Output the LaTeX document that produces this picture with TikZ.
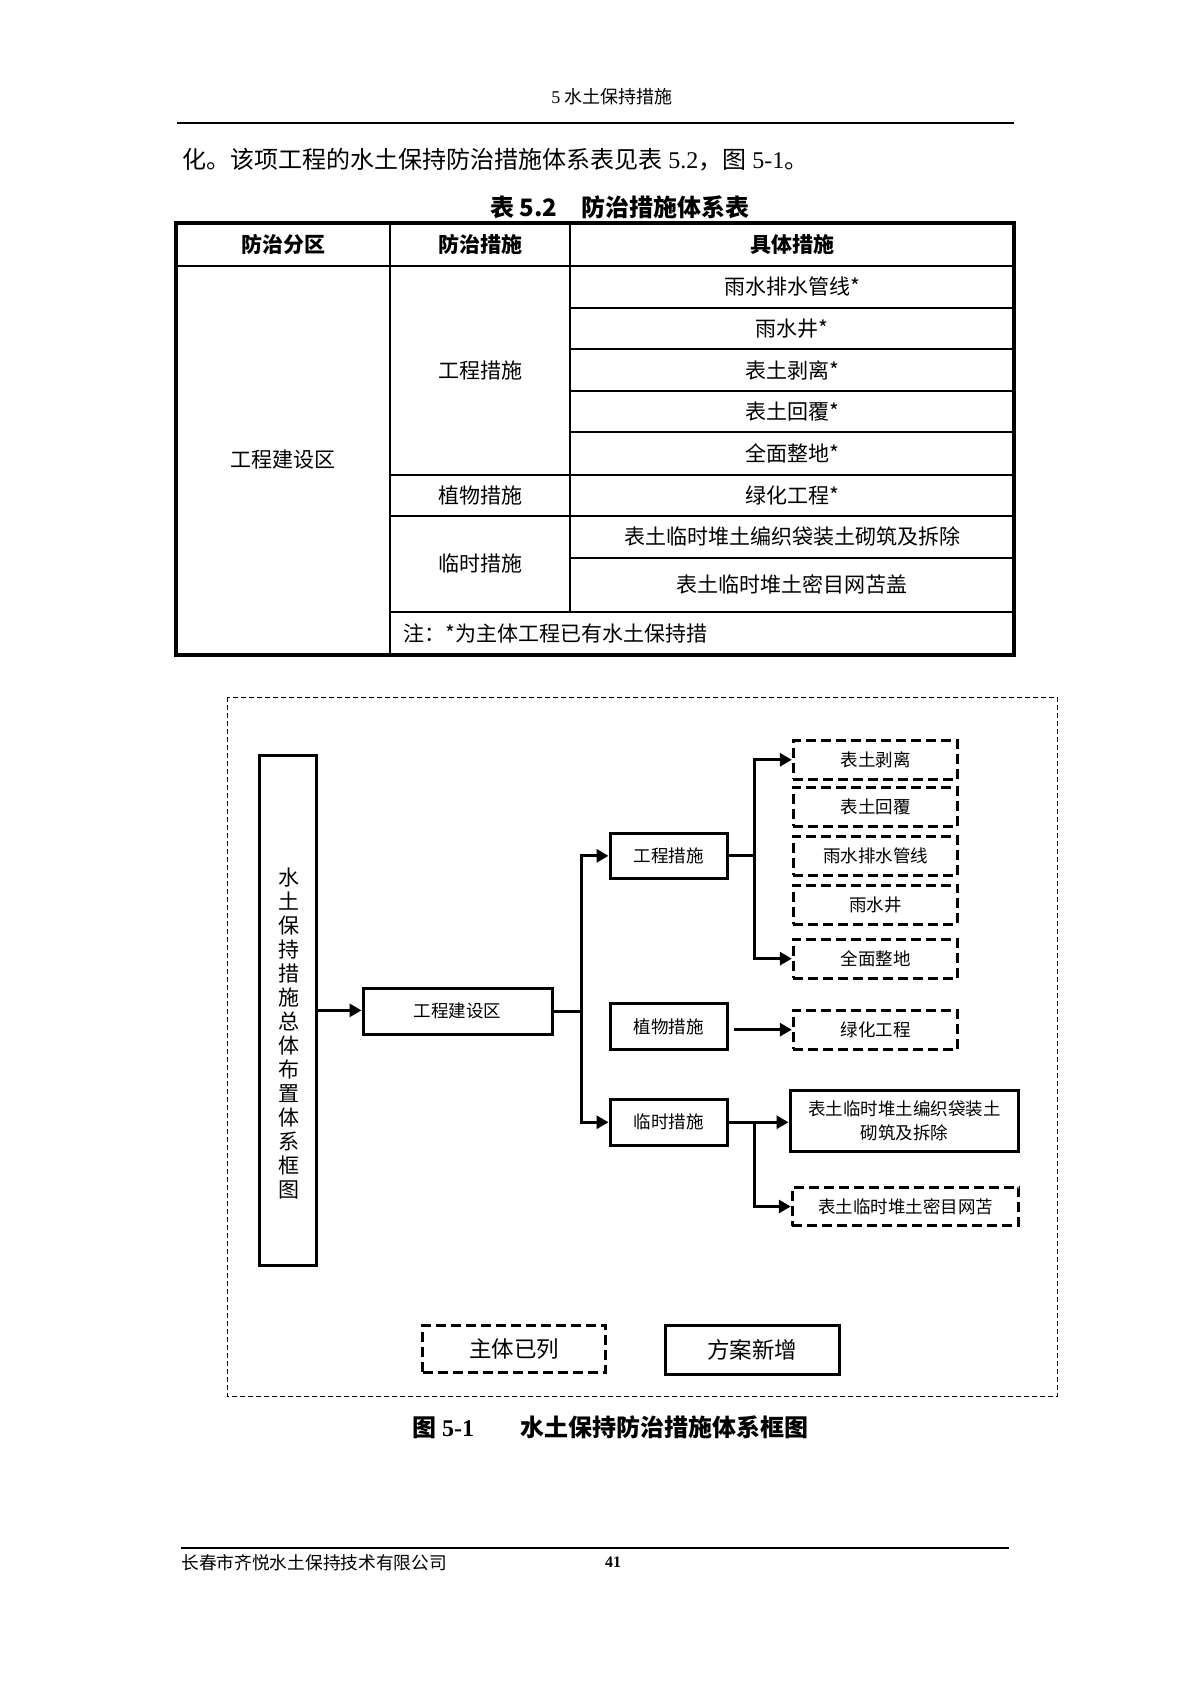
\documentclass[tikz,border=0pt]{standalone}
\usepackage{fontspec}
\setmainfont{Liberation Serif}
\newfontfamily\cjk{Noto Sans CJK SC}
\usetikzlibrary{arrows.meta,calc}
\tikzset{
  tcell/.style={font=\cjk\fontsize{10.5pt}{12pt}\selectfont, inner sep=0pt},
  thead/.style={font=\cjk\bfseries\fontsize{10.5pt}{12pt}\selectfont, inner sep=0pt},
  outerline/.style={line width=1.6pt},
  innerline/.style={line width=1pt},
  sbox/.style={draw, line width=1.5pt, inner sep=0pt, align=center,
    font=\cjk\fontsize{8.75pt}{11.7pt}\selectfont},
  dbox/.style={sbox, dash pattern=on 5pt off 2.5pt},
  lgbox/.style={draw, line width=1.5pt, inner sep=0pt,
    font=\cjk\fontsize{11.25pt}{13pt}\selectfont},
  lgdbox/.style={lgbox, dash pattern=on 5pt off 2.5pt},
  arr/.style={line width=1.5pt, -{Triangle[length=6pt,width=6.5pt]}},
  ln/.style={line width=1.5pt},
  vtext/.style={inner sep=0pt, align=center, font=\cjk\fontsize{10.5pt}{12pt}\selectfont},
  frame/.style={line width=0.55pt, dash pattern=on 2.5pt off 1.5pt}
}
\begin{document}
\begin{tikzpicture}[x=0.5pt,y=-0.5pt]
\useasboundingbox (0,0) rectangle (1191,1684);
\fill[white] (0,0) rectangle (1191,1684);

% ---------- page header ----------
\node[font=\cjk\fontsize{9pt}{10pt}\selectfont, inner sep=0pt] (hdr) at (612,97) {{\rmfamily 5} 水土保持措施};
\draw[line width=0.9pt] (177,123) -- (1014,123);

\node[anchor=west, inner sep=0pt, font=\cjk\fontsize{12pt}{14pt}\selectfont] (body) at (182,160)
  {化。该项工程的水土保持防治措施体系表见表{\rmfamily\ 5.2}，图{\rmfamily\ 5-1}。};

% ---------- table ----------
\node[font=\cjk\bfseries\fontsize{12pt}{14pt}\selectfont, inner sep=0pt] (ttl) at (620,207) {表 5.2\quad 防治措施体系表};

\draw[outerline] (176,223) rectangle (1014,655);
\draw[innerline] (176,265.7) -- (1014,265.7);
\draw[innerline] (390,223) -- (390,655);
\draw[innerline] (570,223) -- (570,611.7);
\foreach \yy in {307.7,349,390.7,432.3,557.7}{\draw[innerline] (570,\yy) -- (1014,\yy);}
\foreach \yy in {475,515.7,611.7}{\draw[innerline] (390,\yy) -- (1014,\yy);}

\node[thead] (h1) at (283,244.5) {防治分区};
\node[thead] (h2) at (480,244.5) {防治措施};
\node[thead] (h3) at (792,244.5) {具体措施};

\node[tcell] (c1) at (792,286.7) {雨水排水管线*};
\node[tcell] (c2) at (792,328.3) {雨水井*};
\node[tcell] (c3) at (792,370) {表土剥离*};
\node[tcell] (c4) at (792,411.5) {表土回覆*};
\node[tcell] (c5) at (792,453.7) {全面整地*};
\node[tcell] (c6) at (792,495.3) {绿化工程*};
\node[tcell] (c7) at (792,536.7) {表土临时堆土编织袋装土砌筑及拆除};
\node[tcell] (c8) at (792,584.7) {表土临时堆土密目网苫盖};

\node[tcell] (m1) at (480,370.3) {工程措施};
\node[tcell] (m2) at (480,495.3) {植物措施};
\node[tcell] (m3) at (480,563.7) {临时措施};
\node[tcell] (z1) at (283,460) {工程建设区};
\node[tcell, anchor=west] (note) at (403,633) {注：*为主体工程已有水土保持措};

% ---------- diagram ----------
\draw[frame] (227.7,697.3) rectangle (1057.3,1396.7);

\node[sbox, minimum width=28.85pt, minimum height=255.35pt] (T) at (287.85,1010.35) {};
\node[vtext] (TT) at (289,1034) {水\\土\\保\\持\\措\\施\\总\\体\\布\\置\\体\\系\\框\\图};

\node[sbox, minimum width=94.5pt, minimum height=23.35pt] (A) at (457.5,1011.35) {工程建设区};

\node[sbox, minimum width=58.5pt, minimum height=22.85pt] (B1) at (668.5,855.85) {工程措施};
\node[sbox, minimum width=58.5pt, minimum height=23pt] (B2) at (668.5,1026.7) {植物措施};
\node[sbox, minimum width=58.5pt, minimum height=23.25pt] (B3) at (668.5,1122.25) {临时措施};

\node[dbox, minimum width=82.2pt, minimum height=19.5pt] (D1) at (875.5,759.8) {表土剥离};
\node[dbox, minimum width=82.2pt, minimum height=19.5pt] (D2) at (875.5,806.65) {表土回覆};
\node[dbox, minimum width=82.2pt, minimum height=19.5pt] (D3) at (875.5,855.65) {雨水排水管线};
\node[dbox, minimum width=82.2pt, minimum height=19.5pt] (D4) at (875.5,904.5) {雨水井};
\node[dbox, minimum width=82.2pt, minimum height=19.5pt] (D5) at (875.5,958.65) {全面整地};
\node[dbox, minimum width=82.2pt, minimum height=19.5pt] (D6) at (875.5,1029.65) {绿化工程};

\node[sbox, minimum width=114.35pt, minimum height=30.85pt] (E1) at (904.35,1120.85) {表土临时堆土编织袋装土\\砌筑及拆除};
\node[dbox, minimum width=113.2pt, minimum height=19.2pt] (E2) at (905.5,1206.5) {表土临时堆土密目网苫};

\node[lgdbox, minimum width=91.5pt, minimum height=23.65pt] (L1) at (514.2,1348.65) {主体已列};
\node[lgbox, minimum width=86.65pt, minimum height=24.85pt] (L2) at (752.35,1349.85) {方案新增};

% connectors
\draw[arr] (T.east) -- (T.east -| A.west);
\coordinate (J) at (581,1011.35);
\draw[ln] (A.east) -- (J);
\draw[arr] (J) |- (B1.west);
\draw[arr] (J) |- (B3.west);

\coordinate (K) at (754.3,855.85);
\draw[ln] (B1.east) -- (K);
\draw[arr] (K) |- (D1.west);
\draw[arr] (K) |- (D5.west);

\draw[arr] ($(B2.east |- D6.west)+(5,0)$) -- (D6.west);

\coordinate (M) at (754,1122.25);
\draw[arr] (B3.east) -- (B3.east -| E1.west);
\draw[arr] (M) |- (E2.west);

% ---------- caption ----------
\node[anchor=west, inner sep=0pt, font=\cjk\bfseries\fontsize{12pt}{14pt}\selectfont] (cap) at (411.7,1427)
  {图{\rmfamily\bfseries\ 5-1}\hspace{23pt}水土保持防治措施体系框图};

% ---------- footer ----------
\draw[line width=0.9pt] (181,1547.7) -- (1009.3,1547.7);
\node[anchor=west, inner sep=0pt, font=\cjk\fontsize{8.85pt}{10pt}\selectfont] (ftr) at (181,1562.7) {长春市齐悦水土保持技术有限公司};
\node[inner sep=0pt, font=\rmfamily\bfseries\fontsize{8pt}{9pt}\selectfont] (pg) at (613,1562) {41};
\end{tikzpicture}
\end{document}
